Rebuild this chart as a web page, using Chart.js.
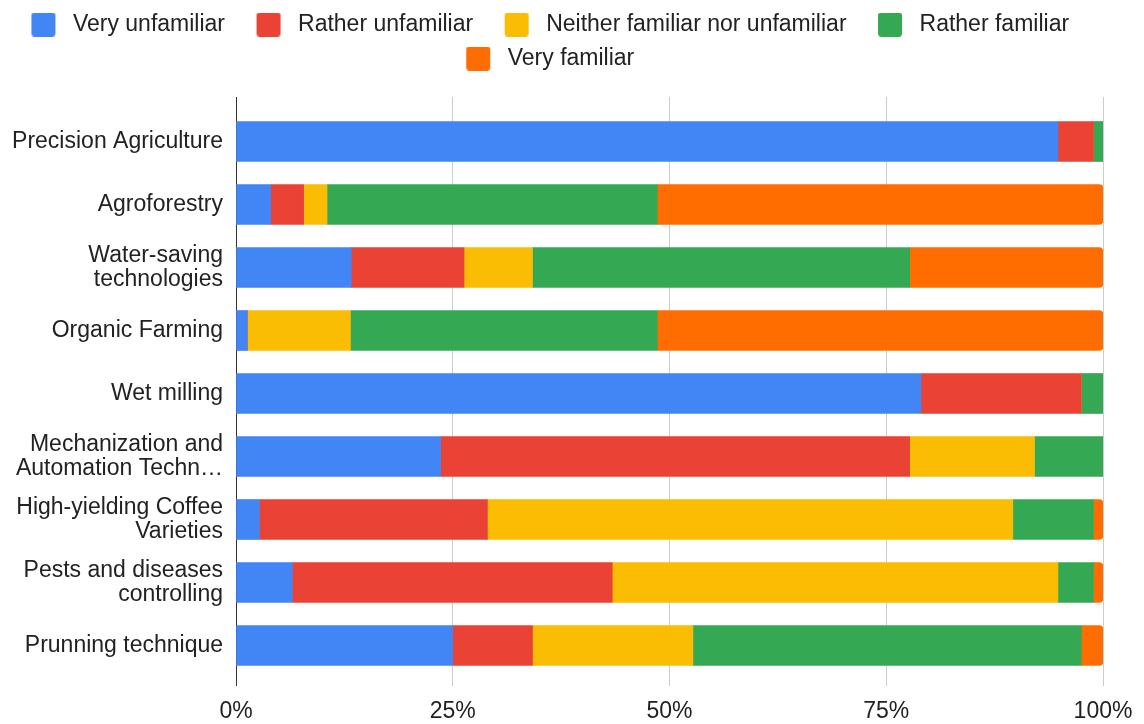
<!DOCTYPE html>
<html>
<head>
<meta charset="utf-8">
<script src="https://cdn.jsdelivr.net/npm/chart.js@4"></script>
<style>
  html, body { margin: 0; padding: 0; background: #fff; }
  #wrap { width: 1144px; height: 724px; position: relative; }
</style>
</head>
<body>
<div id="wrap"><canvas id="familiarity-chart"></canvas></div>
<script>
// categories (top to bottom)
const techniques = [
    'Precision Agriculture',
    'Agroforestry',
    ['Water-saving', 'technologies'],
    'Organic Farming',
    'Wet milling',
    ['Mechanization and', 'Automation Techn\u2026'],
    ['High-yielding Coffee', 'Varieties'],
    ['Pests and diseases', 'controlling'],
    'Prunning technique'
];

// share of answers (%), one array per answer
const veryUnfamiliar   = [94.8, 4.0, 13.3, 1.3, 79.0, 23.6, 2.7, 6.5, 25.0];
const ratherUnfamiliar = [4.1, 3.8, 13.0, 0, 18.5, 54.1, 26.3, 36.9, 9.2];
const neitherFamiliar  = [0, 2.7, 7.9, 11.9, 0, 14.4, 60.6, 51.4, 18.5];
const ratherFamiliar   = [1.1, 38.1, 43.5, 35.4, 2.5, 7.9, 9.3, 4.1, 44.8];
const veryFamiliar     = [0, 51.4, 22.3, 51.4, 0, 0, 1.1, 1.1, 2.5];

const xTicks = [0, 25, 50, 75, 100];

const FONT = "'Liberation Sans', Arial, sans-serif";
const GRID = '#cccccc';
const AXIS = '#333333';

// legend swatch: rounded square with a little space around it
function makeSwatch(color) {
    const c = document.createElement('canvas');
    c.width = 9 + 24 + 6;
    c.height = 24;
    const g = c.getContext('2d');
    g.fillStyle = color;
    g.beginPath();
    g.roundRect(9, 0, 24, 24, 3);
    g.fill();
    return c;
}

// extra room under the legend
const legendGap = {
    id: 'legendGap',
    beforeLayout(chart) {
        const lg = chart.legend;
        if (lg && !lg._gapPatched) {
            const fit = lg.fit;
            lg.fit = function () { fit.call(this); this.height += 30; };
            lg._gapPatched = true;
        }
    }
};

// gridlines continue a little above the plot
const gridTop = {
    id: 'gridTop',
    beforeDatasetsDraw(chart) {
        const {ctx, chartArea, scales} = chart;
        ctx.save();
        ctx.lineWidth = 1;
        xTicks.forEach((v) => {
            const px = Math.round(scales.x.getPixelForValue(v) - 0.5) + 0.5;
            ctx.strokeStyle = v === 0 ? AXIS : GRID;
            ctx.beginPath();
            ctx.moveTo(px, chartArea.top - 13);
            ctx.lineTo(px, chartArea.top);
            ctx.stroke();
        });
        ctx.restore();
    }
};

function loadFamiliarityChart() {
    const series = [
        {label: 'Very unfamiliar', data: veryUnfamiliar, color: '#4285F4'},
        {label: 'Rather unfamiliar', data: ratherUnfamiliar, color: '#EA4335'},
        {label: 'Neither familiar nor unfamiliar', data: neitherFamiliar, color: '#FBBC04'},
        {label: 'Rather familiar', data: ratherFamiliar, color: '#34A853'},
        {label: 'Very familiar', data: veryFamiliar, color: '#FF6D01'}
    ];
    const swatches = series.map((s) => makeSwatch(s.color));

    const ctx = document.getElementById('familiarity-chart').getContext('2d');
    const chart = new Chart(ctx, {
        type: 'bar',
        data: {
            labels: techniques,
            datasets: series.map((s, i) => ({
                label: s.label,
                data: s.data,
                backgroundColor: s.color,
                borderWidth: 0,
                barThickness: 40,
                // only the last segment gets rounded ends
                borderRadius: i === series.length - 1 ? {topRight: 4, bottomRight: 4} : 0
            }))
        },
        options: {
            indexAxis: 'y',
            responsive: true,
            maintainAspectRatio: false,
            animation: false,
            layout: {padding: {top: 2, right: 41, left: 0, bottom: 0}},
            plugins: {
                tooltip: {enabled: false},
                legend: {
                    position: 'top',
                    align: 'center',
                    labels: {
                        usePointStyle: true,
                        pointStyleWidth: 39,
                        padding: 11,
                        color: '#222222',
                        font: {family: FONT, size: 23},
                        generateLabels(chart) {
                            const items = Chart.defaults.plugins.legend.labels.generateLabels(chart);
                            items.forEach((it, i) => {
                                it.pointStyle = swatches[i];
                                it.text = it.text + '\u2002';
                            });
                            return items;
                        }
                    }
                }
            },
            scales: {
                x: {
                    stacked: true,
                    min: 0,
                    max: 100,
                    afterBuildTicks: (scale) => { scale.ticks = xTicks.map((v) => ({value: v})); },
                    afterFit: (scale) => {
                        scale.height = 47;
                        scale.paddingLeft = 0;
                        scale.paddingRight = 0;
                    },
                    grid: {
                        color: (c) => (c.tick && c.tick.value === 0 ? AXIS : GRID),
                        tickLength: 9
                    },
                    border: {display: false},
                    ticks: {
                        padding: 14,
                        color: '#222222',
                        font: {family: FONT, size: 23, lineHeight: 1},
                        callback: (v) => v + '%'
                    }
                },
                y: {
                    stacked: true,
                    grid: {display: false, drawTicks: false, tickLength: 0},
                    border: {display: true, color: AXIS, width: 1},
                    afterFit: (scale) => { scale.width = 236; },
                    ticks: {
                        padding: 13,
                        color: '#222222',
                        font: {family: FONT, size: 23, lineHeight: 1.04}
                    }
                }
            }
        },
        plugins: [legendGap, gridTop]
    });
    return chart;
}

window.addEventListener('load', () => {
    loadFamiliarityChart();
});
</script>
</body>
</html>
